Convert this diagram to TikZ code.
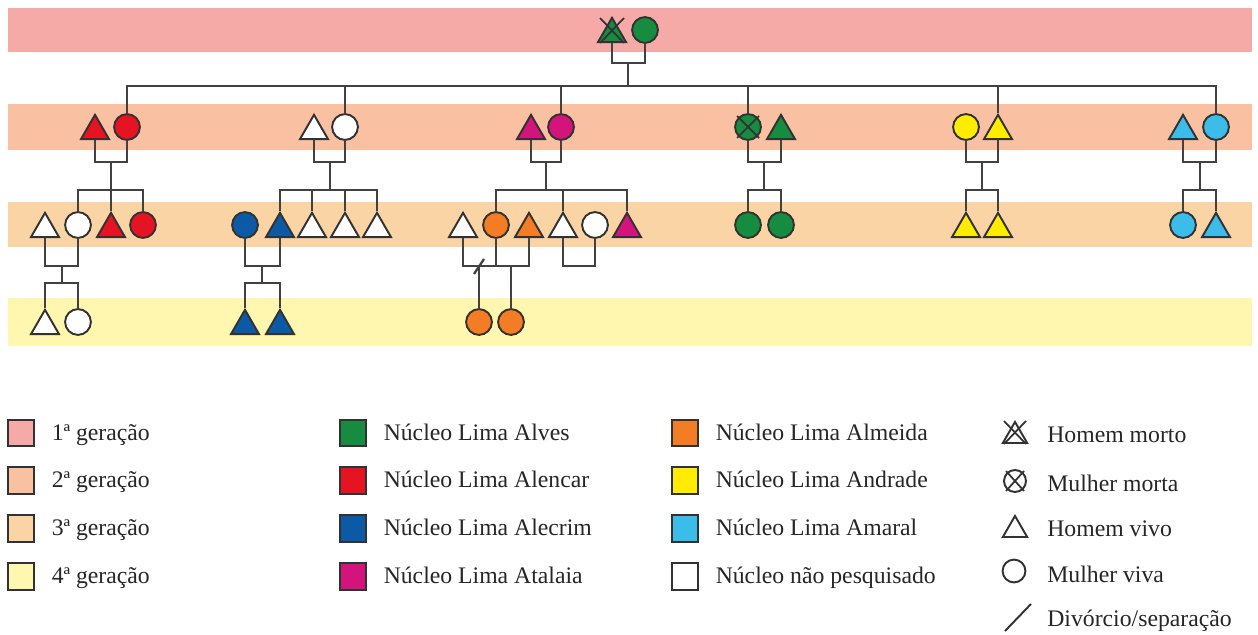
\documentclass[tikz,border=0pt]{standalone}
\usepackage{fontspec}
\setmainfont{Liberation Serif}
\usepackage{tikz}
\usetikzlibrary{shapes, positioning}

\definecolor{bandA}{RGB}{246,170,168}
\definecolor{bandB}{RGB}{249,193,162}
\definecolor{bandC}{RGB}{251,212,165}
\definecolor{bandD}{RGB}{255,246,176}
\definecolor{alves}{RGB}{22,140,64}
\definecolor{alencar}{RGB}{230,20,35}
\definecolor{alecrim}{RGB}{12,90,165}
\definecolor{atalaia}{RGB}{212,20,125}
\definecolor{almeida}{RGB}{244,124,36}
\definecolor{andrade}{RGB}{255,236,0}
\definecolor{amaral}{RGB}{60,188,232}
\definecolor{symline}{RGB}{50,50,50}
\definecolor{linegray}{RGB}{65,65,65}

\begin{document}
\begin{tikzpicture}[x=0.02cm, y=-0.02cm,
        line/.style={draw=linegray, line width=1.3pt},
        cross/.style={draw=symline, line width=1pt},
        person/.style={draw=symline, line width=1.1pt, inner sep=0pt},
        man/.style={person, regular polygon, regular polygon sides=3, minimum size=18.4pt},
        woman/.style={person, circle, minimum size=14.7pt},
        legbox/.style={rectangle, draw=symline, line width=1.1pt, minimum size=15.3pt, inner sep=0pt},
        legtext/.style={inner sep=0pt, text height=10pt, text depth=2pt, font=\fontsize{13.5}{16}\selectfont, text=black!85}
    ]
        \useasboundingbox (0,0) rectangle (1258,635);
        % Generation bands
        \fill[bandA] (8,8) rectangle (1252,52);
        \fill[bandB] (8,104) rectangle (1252,150);
        \fill[bandC] (8,202) rectangle (1252,247);
        \fill[bandD] (8,298) rectangle (1252,346);

        % 1st generation
        \node[man, fill=alves] (g1m) at (612,34) {};
        \node[woman, fill=alves] (g1w) at (645,30) {};
        \path[cross] ([shift={(-12,-16)}]g1m.center) -- ([shift={(12,9)}]g1m.center);
        \path[cross] ([shift={(12,-16)}]g1m.center) -- ([shift={(-12,9)}]g1m.center);

        % 2nd generation
        \node[man, fill=alencar] (g2aM) at (95,131) {};
        \node[woman, fill=alencar] (g2aW) at (127,127) {};
        \node[man, fill=white] (g2bM) at (314,131) {};
        \node[woman, fill=white] (g2bW) at (345,127) {};
        \node[man, fill=atalaia] (g2cM) at (531,131) {};
        \node[woman, fill=atalaia] (g2cW) at (561,127) {};
        \node[woman, fill=alves] (g2dW) at (748,127) {};
        \node[man, fill=alves] (g2dM) at (781,131) {};
        \node[woman, fill=andrade] (g2eW) at (966,127) {};
        \node[man, fill=andrade] (g2eM) at (998,131) {};
        \node[man, fill=amaral] (g2fM) at (1183,131) {};
        \node[woman, fill=amaral] (g2fW) at (1216,127) {};
        \path[cross] ([shift={(-11,-11)}]g2dW.center) -- ([shift={(11,11)}]g2dW.center);
        \path[cross] ([shift={(11,-11)}]g2dW.center) -- ([shift={(-11,11)}]g2dW.center);

        % 3rd generation
        \node[man, fill=white] (g3aM1) at (45,229) {};
        \node[woman, fill=white] (g3aW1) at (78,225) {};
        \node[man, fill=alencar] (g3aM2) at (111,229) {};
        \node[woman, fill=alencar] (g3aW2) at (143,225) {};
        \node[woman, fill=alecrim] (g3bW1) at (245,225) {};
        \node[man, fill=alecrim] (g3bM1) at (280,229) {};
        \node[man, fill=white] (g3bM2) at (312,229) {};
        \node[man, fill=white] (g3bM3) at (345,229) {};
        \node[man, fill=white] (g3bM4) at (377,229) {};
        \node[man, fill=white] (g3cM1) at (463,229) {};
        \node[woman, fill=almeida] (g3cW1) at (496,225) {};
        \node[man, fill=almeida] (g3cM2) at (529,229) {};
        \node[man, fill=white] (g3cM3) at (563,229) {};
        \node[woman, fill=white] (g3cW2) at (595,225) {};
        \node[man, fill=atalaia] (g3cM4) at (627,229) {};
        \node[woman, fill=alves] (g3dW1) at (748,225) {};
        \node[woman, fill=alves] (g3dW2) at (781,225) {};
        \node[man, fill=andrade] (g3eM1) at (966,229) {};
        \node[man, fill=andrade] (g3eM2) at (998,229) {};
        \node[woman, fill=amaral] (g3fW) at (1183,225) {};
        \node[man, fill=amaral] (g3fM) at (1216,229) {};

        % 4th generation
        \node[man, fill=white] (g4aM) at (45,326) {};
        \node[woman, fill=white] (g4aW) at (78,322) {};
        \node[man, fill=alecrim] (g4bM1) at (245,326) {};
        \node[man, fill=alecrim] (g4bM2) at (280,326) {};
        \node[woman, fill=almeida] (g4cW1) at (479,322) {};
        \node[woman, fill=almeida] (g4cW2) at (511,322) {};

        % Connections
        \coordinate (c1) at (628,63);
        \coordinate (s1) at (628,86);
        \path[line] (g1m.south) |- (c1) -| (g1w.south);
        \path[line] (c1) -- (s1);
        \path[line] (g2aW.north) |- (s1) -| (g2fW.north);
        \foreach \n in {g2bW, g2cW, g2dW, g2eM}
            \path[line] (\n.north) -- (\n.north |- s1);

        \foreach \p/\q/\k/\xm in {g2aM/g2aW/a/111, g2bM/g2bW/b/330, g2cM/g2cW/c/546,
                g2dW/g2dM/d/764, g2eW/g2eM/e/982, g2fM/g2fW/f/1200} {
            \coordinate (c2\k) at (\xm,162);
            \coordinate (s2\k) at (\xm,190);
            \path[line] (\p.south) |- (c2\k) -| (\q.south);
            \path[line] (c2\k) -- (s2\k);
        }
        \path[line] (g3aW1.north) |- (s2a) -| (g3aW2.north);
        \path[line] (g3bM1.north) |- (s2b) -| (g3bM4.north);
        \path[line] (g3cW1.north) |- (s2c) -| (g3cM4.north);
        \path[line] (g3dW1.north) |- (s2d) -| (g3dW2.north);
        \path[line] (g3eM1.north) |- (s2e) -| (g3eM2.north);
        \path[line] (g3fW.north) |- (s2f) -| (g3fM.north);
        \foreach \n in {g3aM2, g3bM2, g3bM3, g3cM3}
            \path[line] (\n.north) -- (\n.north |- s2a);

        \coordinate (c3a) at (62,266);
        \coordinate (s3a) at (62,283);
        \path[line] (g3aM1.south) |- (c3a) -| (g3aW1.south);
        \path[line] (c3a) -- (s3a);
        \path[line] (g4aM.north) |- (s3a) -| (g4aW.north);
        \coordinate (c3b) at (262,266);
        \coordinate (s3b) at (262,283);
        \path[line] (g3bW1.south) |- (c3b) -| (g3bM1.south);
        \path[line] (c3b) -- (s3b);
        \path[line] (g4bM1.north) |- (s3b) -| (g4bM2.north);
        \coordinate (c3c) at (496,266);
        \coordinate (div) at (479,266);
        \path[line] (g3cM1.south) |- (c3c) -| (g3cM2.south);
        \path[line] (g3cW1.south) -- (c3c);
        \path[line] ([shift={(-5,8)}]div) -- ([shift={(5,-7)}]div);
        \foreach \n in {g4cW1, g4cW2}
            \path[line] (\n.north) -- (\n.north |- c3c);
        \coordinate (c3d) at (579,266);
        \path[line] (g3cM3.south) |- (c3d) -| (g3cW2.south);

        % Legend: generations
        \node[legbox, fill=bandA] (kA) at (21,433) {};
        \node[legbox, fill=bandB, below=0.38cm of kA] (kB) {};
        \node[legbox, fill=bandC, below=0.38cm of kB] (kC) {};
        \node[legbox, fill=bandD, below=0.38cm of kC] (kD) {};
        \node[legtext, right=0.32cm of kA] (tA) {1ª geração};
        \node[legtext, right=0.32cm of kB] (tB) {2ª geração};
        \node[legtext, right=0.32cm of kC] (tC) {3ª geração};
        \node[legtext, right=0.32cm of kD] (tD) {4ª geração};
        % Legend: family groups
        \node[legbox, fill=alves] (kAlves) at (353,433) {};
        \node[legbox, fill=alencar, below=0.38cm of kAlves] (kAlencar) {};
        \node[legbox, fill=alecrim, below=0.38cm of kAlencar] (kAlecrim) {};
        \node[legbox, fill=atalaia, below=0.38cm of kAlecrim] (kAtalaia) {};
        \node[legtext, right=0.32cm of kAlves] {Núcleo Lima Alves};
        \node[legtext, right=0.32cm of kAlencar] {Núcleo Lima Alencar};
        \node[legtext, right=0.32cm of kAlecrim] {Núcleo Lima Alecrim};
        \node[legtext, right=0.32cm of kAtalaia] {Núcleo Lima Atalaia};
        \node[legbox, fill=almeida] (kAlmeida) at (685,433) {};
        \node[legbox, fill=andrade, below=0.38cm of kAlmeida] (kAndrade) {};
        \node[legbox, fill=amaral, below=0.38cm of kAndrade] (kAmaral) {};
        \node[legbox, fill=white, below=0.38cm of kAmaral] (kNone) {};
        \node[legtext, right=0.32cm of kAlmeida] {Núcleo Lima Almeida};
        \node[legtext, right=0.32cm of kAndrade] {Núcleo Lima Andrade};
        \node[legtext, right=0.32cm of kAmaral] {Núcleo Lima Amaral};
        \node[legtext, right=0.32cm of kNone] {Núcleo não pesquisado};
        % Legend: symbols
        \node[man, minimum size=16pt] (kDeadM) at (1015,436) {};
        \path[cross] ([shift={(-11,-15)}]kDeadM.center) -- ([shift={(11,8)}]kDeadM.center);
        \path[cross] ([shift={(11,-15)}]kDeadM.center) -- ([shift={(-11,8)}]kDeadM.center);
        \node[woman, minimum size=12.5pt] (kDeadW) at (1015,481) {};
        \path[cross] ([shift={(-9,-10)}]kDeadW.center) -- ([shift={(9,10)}]kDeadW.center);
        \path[cross] ([shift={(9,-10)}]kDeadW.center) -- ([shift={(-9,10)}]kDeadW.center);
        \node[man, minimum size=16pt] (kLiveM) at (1015,530) {};
        \node[woman, minimum size=13pt] (kLiveW) at (1014,571) {};
        \coordinate (kDivA) at (1005,631);
        \coordinate (kDivB) at (1031,604);
        \path[draw=symline, line width=1.1pt] (kDivA) -- (kDivB);
        \node[legtext, anchor=west] at (1047,435) {Homem morto};
        \node[legtext, anchor=west] at (1047,484) {Mulher morta};
        \node[legtext, anchor=west] at (1047,529) {Homem vivo};
        \node[legtext, anchor=west] at (1047,575) {Mulher viva};
        \node[legtext, anchor=west] at (1047,619) {Divórcio/separação};
    \end{tikzpicture}
\end{document}
